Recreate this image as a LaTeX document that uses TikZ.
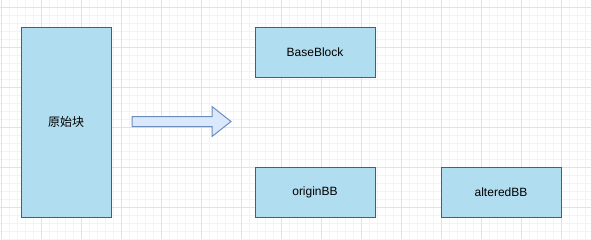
\documentclass[tikz,border=0pt]{standalone}
\usepackage{fontspec}
\setmainfont{Liberation Sans}
\newfontfamily\cjkfont{Noto Sans CJK SC}
\usetikzlibrary{positioning}
\definecolor{BlockFill}{HTML}{B1DDF0}
\definecolor{BlockLine}{HTML}{10739E}
\definecolor{ArrowFill}{HTML}{DAE8FC}
\definecolor{ArrowLine}{HTML}{6C8EBF}
\definecolor{MinorClr}{HTML}{F3F3F3}
\definecolor{MajorClr}{HTML}{E2E2E2}

\begin{document}
\begin{tikzpicture}[x=0.75pt,y=-0.75pt,
  blockbox/.style={draw=BlockLine,fill=BlockFill,line width=0.75pt,
    inner sep=0pt,font=\fontsize{9}{11}\selectfont},
  minorline/.style={MinorClr,line width=0.75pt},
  majorline/.style={MajorClr,line width=0.75pt}]
\fill[white] (0,0) rectangle (591,239);
\useasboundingbox (0,0) rectangle (591,239);

% grid
\foreach \i in {0,...,73} \draw[minorline] ({1+8*\i},0) -- ({1+8*\i},239);
\foreach \j in {0,...,29} \draw[minorline] (0,{7+8*\j}) -- (591,{7+8*\j});
\foreach \i in {0,...,14} \draw[majorline] ({1+40*\i},0) -- ({1+40*\i},239);
\foreach \j in {0,...,5} \draw[majorline] (0,{7+40*\j}) -- (591,{7+40*\j});

% blocks
\node[blockbox,minimum width=90*0.75pt,minimum height=190*0.75pt] (orig) at (66,122) {\cjkfont 原始块};
\node[blockbox,minimum width=120*0.75pt,minimum height=50*0.75pt] (base) at (315,52) {BaseBlock};
\node[blockbox,minimum width=120*0.75pt,minimum height=50*0.75pt] (originbb) at (315,192) {originBB};
\node[blockbox,minimum width=120*0.75pt,minimum height=50*0.75pt] (alteredbb) at (501,192) {alteredBB};

% arrow
\draw[draw=ArrowLine,fill=ArrowFill,line width=0.75pt,line join=miter]
  (132,116.5) -- (212,116.5) -- (212,106.5) -- (231,121.5) -- (212,136.5)
  -- (212,126.5) -- (132,126.5) -- cycle;

\end{tikzpicture}
\end{document}
